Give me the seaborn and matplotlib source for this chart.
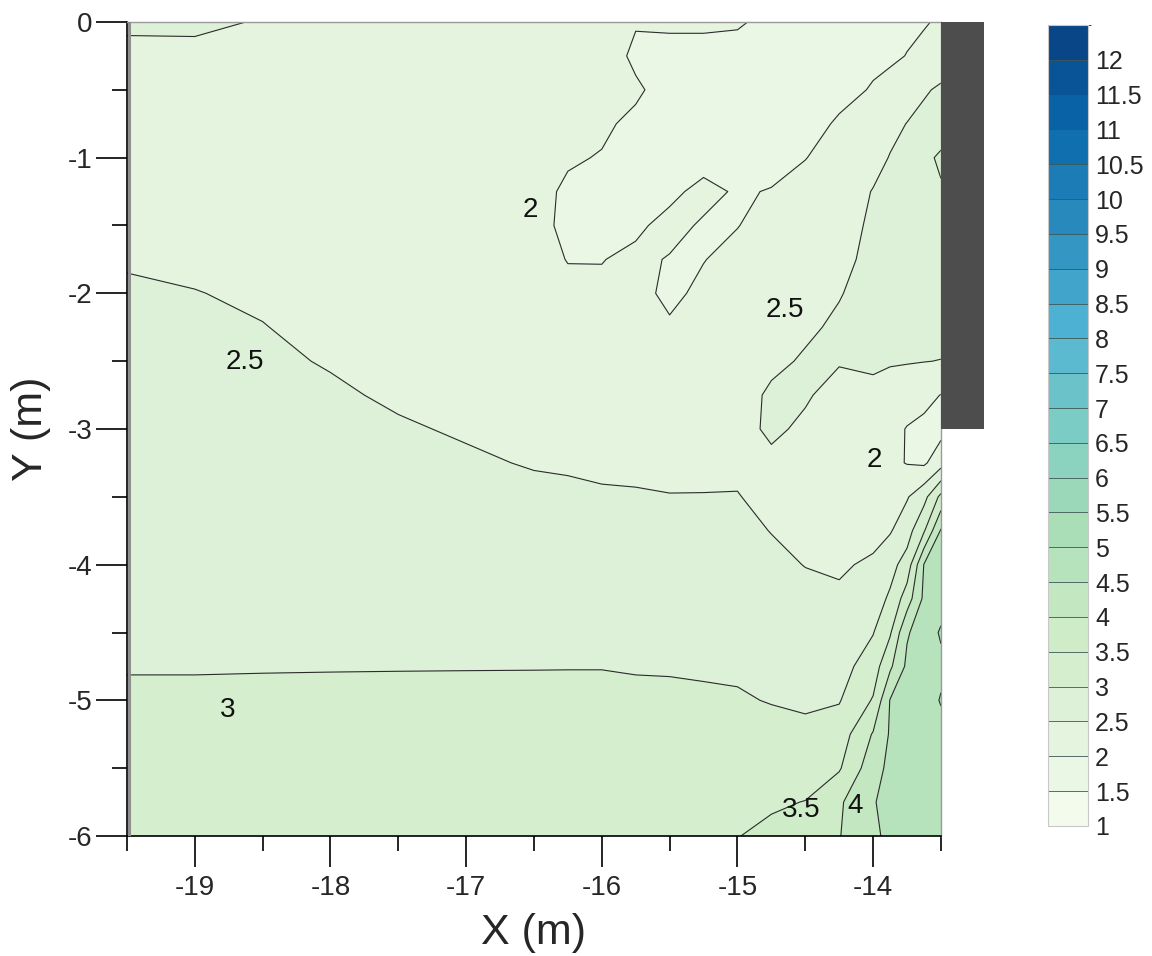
import numpy as np
import matplotlib
matplotlib.use("Agg")
import matplotlib.pyplot as plt
import seaborn as sns
from matplotlib.colors import ListedColormap, BoundaryNorm
from matplotlib.patches import Rectangle

# ---------------- data ----------------
x_m = [-19.5, -19.0, -18.5, -18.0, -17.5, -17.0, -16.5, -16.25, -16.0, -15.75, -15.5,
       -15.25, -15.0, -14.75, -14.5, -14.25, -14.0, -13.875, -13.75, -13.625, -13.5]
y_m = [0.0, -0.25, -0.5, -0.75, -1.0, -1.25, -1.5, -1.75, -2.0, -2.25, -2.5, -2.75, -3.0,
       -3.25, -3.5, -3.75, -4.0, -4.25, -4.5, -4.75, -5.0, -5.25, -5.5, -5.75, -6.0]

z_y000 = [2.56, 2.56, 2.48, 2.42, 2.38, 2.35, 2.32, 2.30, 2.28, 2.03, 2.05, 2.05, 2.03, 1.93, 1.84, 1.86, 1.88, 1.90, 1.93, 1.97, 2.05]
z_y025 = [2.41, 2.42, 2.40, 2.37, 2.34, 2.31, 2.28, 2.25, 2.22, 1.92, 1.90, 1.90, 1.90, 1.82, 1.79, 1.83, 1.92, 1.94, 2.01, 2.10, 2.18]
z_y050 = [2.36, 2.37, 2.36, 2.34, 2.31, 2.27, 2.24, 2.19, 2.14, 2.06, 1.84, 1.82, 1.84, 1.78, 1.78, 1.88, 2.03, 2.12, 2.29, 2.44, 2.58]
z_y075 = [2.34, 2.35, 2.34, 2.32, 2.29, 2.25, 2.20, 2.12, 2.06, 1.92, 1.82, 1.80, 1.82, 1.80, 1.85, 2.05, 2.20, 2.38, 2.51, 2.65, 2.72]
z_y100 = [2.35, 2.35, 2.34, 2.31, 2.28, 2.23, 2.16, 2.04, 1.98, 1.85, 1.82, 1.86, 1.86, 1.86, 1.99, 2.15, 2.35, 2.52, 2.66, 2.88, 3.08]
z_y125 = [2.38, 2.36, 2.35, 2.31, 2.27, 2.22, 2.12, 1.94, 1.90, 1.82, 1.92, 2.10, 1.96, 2.02, 2.13, 2.25, 2.52, 2.62, 2.72, 2.80, 2.95]
z_y150 = [2.43, 2.39, 2.37, 2.32, 2.27, 2.21, 2.10, 1.93, 1.88, 1.94, 2.10, 1.96, 1.99, 2.13, 2.22, 2.33, 2.57, 2.64, 2.72, 2.74, 2.76]
z_y175 = [2.48, 2.43, 2.40, 2.34, 2.28, 2.21, 2.11, 1.99, 1.99, 2.07, 1.98, 1.99, 2.10, 2.20, 2.28, 2.40, 2.60, 2.66, 2.72, 2.74, 2.74]
z_y200 = [2.53, 2.51, 2.45, 2.37, 2.30, 2.22, 2.14, 2.07, 2.06, 2.10, 1.93, 2.07, 2.16, 2.27, 2.36, 2.48, 2.64, 2.68, 2.72, 2.74, 2.74]
z_y225 = [2.57, 2.55, 2.51, 2.41, 2.33, 2.25, 2.19, 2.15, 2.14, 2.17, 2.04, 2.14, 2.22, 2.33, 2.44, 2.56, 2.62, 2.66, 2.68, 2.68, 2.66]
z_y250 = [2.61, 2.59, 2.55, 2.48, 2.37, 2.29, 2.25, 2.23, 2.22, 2.24, 2.13, 2.22, 2.28, 2.42, 2.54, 2.52, 2.54, 2.52, 2.52, 2.51, 2.49]
z_y275 = [2.65, 2.64, 2.60, 2.54, 2.46, 2.34, 2.32, 2.31, 2.29, 2.31, 2.23, 2.29, 2.34, 2.56, 2.53, 2.40, 2.44, 2.40, 2.30, 2.12, 1.99]
z_y300 = [2.69, 2.68, 2.65, 2.60, 2.53, 2.47, 2.39, 2.39, 2.37, 2.38, 2.32, 2.36, 2.40, 2.55, 2.45, 2.33, 2.30, 2.20, 1.97, 1.90, 1.85]
z_y325 = [2.74, 2.73, 2.70, 2.65, 2.59, 2.54, 2.48, 2.47, 2.45, 2.45, 2.42, 2.43, 2.45, 2.44, 2.40, 2.30, 2.25, 2.10, 1.98, 1.93, 2.30]
z_y350 = [2.78, 2.77, 2.75, 2.71, 2.66, 2.62, 2.57, 2.55, 2.53, 2.52, 2.51, 2.51, 2.51, 2.43, 2.40, 2.32, 2.30, 2.38, 2.46, 2.84, 3.63]
z_y375 = [2.82, 2.81, 2.80, 2.77, 2.73, 2.69, 2.65, 2.64, 2.62, 2.61, 2.60, 2.60, 2.60, 2.49, 2.44, 2.38, 2.40, 2.46, 2.79, 3.45, 4.55]
z_y400 = [2.86, 2.86, 2.84, 2.82, 2.79, 2.77, 2.74, 2.73, 2.72, 2.71, 2.69, 2.69, 2.68, 2.59, 2.49, 2.46, 2.55, 2.84, 3.20, 4.52, 4.70]
z_y425 = [2.90, 2.90, 2.89, 2.88, 2.86, 2.84, 2.83, 2.82, 2.81, 2.80, 2.79, 2.78, 2.77, 2.69, 2.61, 2.55, 2.78, 3.07, 3.75, 4.60, 4.80]
z_y450 = [2.95, 2.95, 2.94, 2.93, 2.93, 2.92, 2.91, 2.91, 2.90, 2.89, 2.88, 2.87, 2.85, 2.79, 2.72, 2.68, 2.98, 3.44, 4.45, 4.75, 5.05]
z_y475 = [2.99, 2.99, 2.99, 2.99, 2.99, 2.99, 2.99, 2.99, 2.99, 2.98, 2.97, 2.96, 2.94, 2.89, 2.83, 2.81, 3.25, 3.91, 4.60, 4.75, 4.90]
z_y500 = [3.03, 3.03, 3.04, 3.05, 3.06, 3.07, 3.08, 3.09, 3.09, 3.06, 3.07, 3.05, 3.04, 2.98, 2.94, 2.97, 3.54, 4.52, 4.65, 4.78, 5.03]
z_y525 = [3.06, 3.06, 3.07, 3.08, 3.09, 3.10, 3.11, 3.12, 3.12, 3.10, 3.11, 3.10, 3.15, 3.14, 3.09, 3.24, 4.04, 4.55, 4.70, 4.78, 4.85]
z_y550 = [3.09, 3.09, 3.10, 3.11, 3.12, 3.13, 3.14, 3.15, 3.15, 3.13, 3.14, 3.13, 3.27, 3.30, 3.30, 3.45, 4.30, 4.62, 4.72, 4.80, 4.85]
z_y575 = [3.12, 3.12, 3.13, 3.14, 3.15, 3.16, 3.17, 3.18, 3.18, 3.16, 3.17, 3.16, 3.38, 3.45, 3.51, 3.93, 4.47, 4.64, 4.72, 4.80, 4.85]
z_y600 = [3.15, 3.15, 3.16, 3.17, 3.18, 3.19, 3.20, 3.21, 3.21, 3.19, 3.20, 3.19, 3.49, 3.59, 3.75, 3.98, 4.40, 4.62, 4.72, 4.80, 4.85]

levels = [1.0, 1.5, 2.0, 2.5, 3.0, 3.5, 4.0, 4.5, 5.0, 5.5, 6.0, 6.5, 7.0, 7.5, 8.0,
          8.5, 9.0, 9.5, 10.0, 10.5, 11.0, 11.5, 12.0, 12.5]
cbar_labels = ["1", "1.5", "2", "2.5", "3", "3.5", "4", "4.5", "5", "5.5", "6", "6.5",
               "7", "7.5", "8", "8.5", "9", "9.5", "10", "10.5", "11", "11.5", "12"]
x_ticks = [-19, -18, -17, -16, -15, -14]
y_ticks = [0, -1, -2, -3, -4, -5, -6]
contour_label_text = ["2", "2.5", "2.5", "2", "3", "3.5", "4"]

# ---------------- style ----------------
sns.set_style("ticks")
plt.rcParams['font.family'] = ['Liberation Sans', 'DejaVu Sans']
plt.rcParams['axes.unicode_minus'] = False

Z = np.array([z_y000, z_y025, z_y050, z_y075, z_y100, z_y125, z_y150, z_y175, z_y200,
              z_y225, z_y250, z_y275, z_y300, z_y325, z_y350, z_y375, z_y400, z_y425,
              z_y450, z_y475, z_y500, z_y525, z_y550, z_y575, z_y600])

fig = plt.figure(figsize=(11.52, 9.56), dpi=100)
ax = fig.add_axes([0.1102, 0.1255, 0.7066, 0.8515])
cax = fig.add_axes([0.9097, 0.136, 0.0347, 0.838])

gnbu = sns.color_palette("GnBu", as_cmap=True)
n_bands = len(levels) - 1
band_colors = [gnbu((i + 0.5) / n_bands) for i in range(n_bands)]
cmap = ListedColormap(band_colors)
norm = BoundaryNorm(levels, cmap.N)

cf = ax.contourf(x_m, y_m, Z, levels=levels, cmap=cmap, norm=norm)
ax.contour(x_m, y_m, Z, levels=levels, colors='#2b2b2b', linewidths=0.8)

ax.set_xlim(x_m[0], x_m[-1])
ax.set_ylim(y_m[-1], y_m[0])

# thin grey frame line on the left of the plotted field
ax.axvline(x_m[0] + 0.018, color='#8f8f8f', lw=2.2, zorder=3)

# dark wall block beside the field (outside the axes)
ax.add_patch(Rectangle((x_m[-1], -3.0), 0.32, 3.0, facecolor='#4d4d4d',
                       edgecolor='none', clip_on=False, zorder=4))

# contour labels
label_pos = [(-16.53, -1.385), (-18.63, -2.505), (-14.65, -2.12), (-13.99, -3.23),
             (-18.76, -5.07), (-14.53, -5.81), (-14.13, -5.78)]
for s, (lx, ly) in zip(contour_label_text, label_pos):
    ax.text(lx, ly, s, fontsize=20, ha='center', va='center', color='#111111', zorder=5)

# ticks
ax.set_xticks(x_ticks)
ax.set_xticklabels([str(v) for v in x_ticks])
ax.set_xticks(np.arange(-19.5, -13.4, 0.5), minor=True)
ax.set_yticks(y_ticks)
ax.set_yticklabels([str(v) for v in y_ticks])
ax.set_yticks(np.arange(-6.0, 0.01, 0.5), minor=True)
ax.tick_params(which='major', length=22, width=1.2, direction='out', labelsize=20,
               color='black')
ax.tick_params(axis='y', which='major', pad=3)
ax.tick_params(axis='x', which='major', pad=6)
ax.tick_params(which='minor', length=11, width=1.2, direction='out', color='black')

for side in ['top', 'right']:
    ax.spines[side].set_color('#9a9a9a')
    ax.spines[side].set_linewidth(1.0)
for side in ['left', 'bottom']:
    ax.spines[side].set_color('black')
    ax.spines[side].set_linewidth(1.2)

ax.set_xlabel("X (m)", fontsize=31, labelpad=9)
ax.set_ylabel("Y (m)", fontsize=31, labelpad=12)

# colour bar
cb = fig.colorbar(cf, cax=cax, ticks=levels[:-1], drawedges=True)
cb.set_ticklabels(cbar_labels)
cb.ax.tick_params(length=0, labelsize=18, pad=5)
cb.outline.set_edgecolor('#c8c8c8')
cb.outline.set_linewidth(0.8)
cb.dividers.set_color('#3d5555')
cb.dividers.set_linewidth(0.6)

fig.savefig("out.png", dpi=100)
